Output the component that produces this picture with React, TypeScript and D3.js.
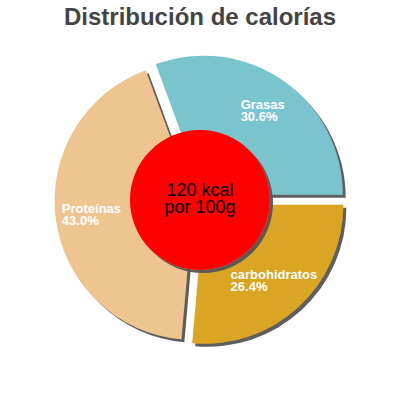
// @ts-nocheck
import React, { useEffect, useRef } from 'react'
import * as d3 from 'd3'

const title = 'Distribución de calorías'
const categories = ['carbohidratos', 'Proteínas', 'Grasas']
const percents = [26.4, 43.0, 30.6]
const colors = ['#DAA520', '#EEC591', '#7AC5CD']
const centerLines = ['120 kcal', 'por 100g']

const font = '"Liberation Sans", Arial, sans-serif'

export const App = () => {
    const ref = useRef(null)

    const buildChart = () => {
        const width = 400,
            height = 400,
            cx = 200,
            cy = 200,
            radius = 139,
            explode = 6.5,
            hole = 70,
            labelRadius = 103

        const svg = d3.select(ref.current)
            .attr('width', width)
            .attr('height', height)

        svg.selectAll('*').remove()

        // Shadow filter for slices and the centre disc
        svg.append('defs')
            .append('filter')
            .attr('id', 'shadow')
            .attr('x', '-20%').attr('y', '-20%')
            .attr('width', '140%').attr('height', '140%')
            .append('feDropShadow')
            .attr('dx', 3)
            .attr('dy', 3)
            .attr('stdDeviation', 0.7)
            .attr('flood-color', '#555')
            .attr('flood-opacity', 0.95)

        // Title
        svg.append('text')
            .attr('x', width / 2)
            .attr('y', 25)
            .attr('text-anchor', 'middle')
            .attr('font-family', font)
            .attr('font-weight', 'bold')
            .attr('font-size', 24)
            .attr('fill', '#444')
            .text(title)

        const data = categories.map((name, i) => ({ name, value: percents[i], color: colors[i] }))

        // Slices start at 3 o'clock and run clockwise
        const pie = d3.pie()
            .sort(null)
            .value(d => d.value)
            .startAngle(Math.PI / 2)
            .endAngle(Math.PI / 2 + 2 * Math.PI)

        const arc = d3.arc().innerRadius(0).outerRadius(radius)
        const arcs = pie(data)

        const dir = d => {
            const a = (d.startAngle + d.endAngle) / 2
            return [Math.sin(a), -Math.cos(a)]
        }

        const g = svg.append('g').attr('transform', `translate(${cx},${cy})`)

        // Drawing exploded slices
        g.selectAll('path.slice')
            .data(arcs)
            .join('path')
            .attr('class', 'slice')
            .attr('d', arc)
            .attr('fill', d => d.data.color)
            .attr('filter', 'url(#shadow)')
            .attr('transform', d => {
                const [ux, uy] = dir(d)
                return `translate(${ux * explode},${uy * explode})`
            })

        // Slice labels: text block centred on the bisector
        arcs.forEach(d => {
            const [ux, uy] = dir(d)
            const tx = ux * (labelRadius + explode)
            const ty = uy * (labelRadius + explode)
            const t = g.append('text')
                .attr('font-family', font)
                .attr('font-weight', 'bold')
                .attr('font-size', 13)
                .attr('fill', '#fff')
            t.append('tspan').attr('x', 0).attr('y', 0).text(d.data.name)
            t.append('tspan').attr('x', 0).attr('y', 12).text(d.data.value.toFixed(1) + '%')
            const b = t.node().getBBox()
            t.attr('transform', `translate(${tx - b.x - b.width / 2},${ty - b.y - b.height / 2})`)
        })

        // Centre disc
        g.append('circle')
            .attr('r', hole)
            .attr('fill', '#ff0000')
            .attr('filter', 'url(#shadow)')

        g.append('text')
            .attr('text-anchor', 'middle')
            .attr('font-family', font)
            .attr('font-size', 18)
            .attr('fill', '#000')
            .selectAll('tspan')
            .data(centerLines)
            .join('tspan')
            .attr('x', 0)
            .attr('y', (d, i) => -4 + i * 17)
            .text(d => d)
    }

    useEffect(() => {
        buildChart()
    }, [])

    return <div style={{ position: 'absolute', left: 0, top: 0 }}>
        <svg ref={ref} width='400' height='400'></svg>
    </div>
}

export default App
